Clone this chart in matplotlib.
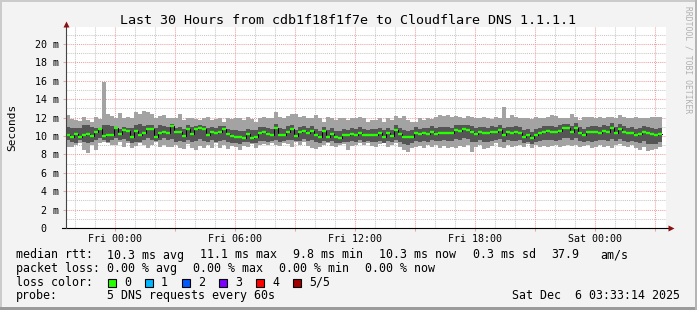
import datetime as dt
import numpy as np
import matplotlib
matplotlib.use("Agg")
import matplotlib.pyplot as plt
from matplotlib.patches import Rectangle

W, H, DPI = 697, 310, 100

title = "Last 30 Hours from cdb1f18f1f7e to Cloudflare DNS 1.1.1.1"
end_time = dt.datetime(2025, 12, 6, 3, 33, 14)
span_hours = 30
step_hours = 0.2  # 12 minute consolidation

median_ms = [
    10.07, 9.85, 10.25, 9.85, 10.11, 10.25, 10.00, 10.47, 10.72, 9.96, 10.11, 10.11, 10.83,
    10.25, 10.69, 10.58, 9.93, 10.54, 10.11, 10.33, 10.72, 10.80, 9.93, 10.36, 10.47,
    10.36, 11.12, 10.47, 10.47, 10.00, 10.80, 10.22, 10.72, 10.83, 10.76, 10.11, 10.43, 10.29,
    10.47, 10.80, 10.22, 10.04, 9.93, 9.89, 9.82, 10.22, 9.82, 9.93, 10.36, 10.43,
    10.18, 10.11, 10.91, 10.11, 10.11, 10.47, 10.72, 10.00, 10.47, 10.54, 10.29, 10.54, 10.07,
    9.85, 10.54, 9.93, 10.25, 9.93, 9.82, 10.11, 10.11, 10.22, 10.11, 10.36, 10.11,
    10.11, 10.11, 10.11, 10.29, 9.93, 10.29, 10.04, 10.65, 10.18, 9.93, 9.93, 9.93, 10.36,
    10.18, 10.36, 10.18, 10.47, 10.18, 10.29, 10.36, 10.29, 10.29, 10.65, 10.58, 10.72,
    10.65, 10.47, 10.22, 10.40, 10.29, 10.29, 10.40, 10.40, 10.65, 10.11, 10.40, 10.29, 10.40,
    10.36, 9.93, 10.11, 9.75, 10.11, 10.29, 10.47, 10.54, 10.47, 10.47, 10.54, 10.83,
    10.83, 10.47, 10.83, 10.36, 10.11, 10.40, 10.47, 10.47, 10.36, 10.54, 10.47, 10.83,
    10.36, 10.72, 10.47, 10.29, 10.36, 10.11, 10.18, 10.47, 10.29, 10.18, 10.07, 10.25,
]
ping5_ms = [
    12.28, 11.85, 11.74, 11.63, 12.10, 11.78, 11.56, 12.10, 11.85, 15.90, 12.36, 12.21, 11.92,
    12.46, 11.99, 12.10, 11.99, 12.57, 12.36, 12.72, 12.65, 12.36, 11.92, 12.21, 12.28,
    11.92, 11.92, 11.99, 12.36, 11.74, 11.99, 11.99, 11.85, 11.74, 11.99, 12.10, 11.74, 11.85,
    11.92, 11.56, 11.99, 11.85, 11.99, 11.92, 11.74, 12.10, 11.85, 11.56, 11.99, 12.10,
    11.92, 11.92, 12.57, 12.10, 11.92, 12.21, 12.36, 12.36, 12.10, 12.21, 11.92, 11.99, 12.28,
    11.92, 11.56, 12.10, 11.99, 11.74, 11.92, 11.99, 11.74, 11.92, 11.99, 12.10, 11.92,
    11.56, 11.74, 11.74, 11.92, 11.56, 11.99, 11.74, 12.21, 11.92, 12.21, 11.74, 11.56, 11.56,
    11.99, 11.74, 11.92, 11.85, 12.10, 12.28, 12.21, 12.28, 12.10, 12.21, 12.10, 11.99,
    12.21, 12.10, 11.99, 11.92, 12.10, 11.99, 11.85, 12.10, 11.92, 13.19, 11.99, 12.28, 12.10,
    11.92, 11.92, 11.99, 11.85, 12.10, 11.99, 11.92, 12.10, 12.28, 12.21, 11.99, 11.92,
    11.92, 12.36, 12.10, 11.74, 12.10, 12.10, 12.10, 11.99, 12.10, 11.92, 12.10, 12.10,
    11.99, 12.28, 12.10, 11.92, 11.92, 12.10, 11.92, 11.92, 11.92, 12.10, 12.10, 12.10,
]
ping4_ms = [
    11.02, 10.83, 10.83, 10.91, 11.20, 11.20, 11.02, 10.83, 10.91, 11.20, 11.20, 11.12, 11.02,
    10.76, 11.02, 10.83, 10.91, 11.20, 11.27, 11.12, 11.20, 11.20, 10.91, 11.20, 11.12,
    10.95, 11.30, 10.90, 11.00, 10.80, 11.15, 10.95, 11.10, 11.15, 11.10, 10.85, 11.00, 10.90,
    11.05, 11.10, 10.75, 10.60, 10.70, 10.55, 10.50, 10.80, 10.60, 10.65, 10.95, 11.00,
    10.85, 10.80, 11.30, 10.90, 10.75, 11.05, 11.20, 10.70, 11.00, 11.10, 10.85, 11.05, 10.80,
    10.55, 11.00, 10.60, 10.85, 10.55, 10.50, 10.80, 10.70, 10.85, 10.75, 11.00, 10.80,
    10.70, 10.75, 10.80, 10.90, 10.60, 10.90, 10.70, 11.20, 10.85, 10.70, 10.55, 10.60, 10.95,
    10.80, 10.90, 10.85, 11.05, 10.85, 10.95, 11.00, 10.95, 10.90, 11.20, 11.15, 11.25,
    11.20, 11.05, 10.90, 11.00, 10.95, 10.90, 11.05, 11.00, 11.20, 10.85, 11.00, 10.95, 11.05,
    10.95, 10.60, 10.75, 10.45, 10.80, 10.90, 11.05, 11.10, 11.05, 11.00, 11.15, 11.35,
    11.35, 11.05, 11.40, 10.95, 10.80, 11.00, 11.10, 11.05, 11.00, 11.15, 11.05, 11.40,
    10.95, 11.30, 11.10, 10.90, 11.00, 10.80, 10.85, 11.10, 10.95, 10.85, 10.80, 10.90,
]
ping2_ms = [
    9.57, 9.38, 9.20, 9.57, 9.38, 9.20, 9.38, 9.57, 9.75, 9.55, 9.38, 9.57, 9.75,
    9.57, 9.67, 9.46, 9.20, 9.38, 9.38, 9.57, 9.75, 9.57, 9.50, 9.57, 9.75,
    9.55, 9.70, 9.40, 9.45, 9.30, 9.60, 9.35, 9.50, 9.65, 9.45, 9.30, 9.55, 9.40,
    9.50, 9.60, 9.30, 9.20, 9.25, 9.15, 9.30, 9.40, 9.25, 9.20, 9.45, 9.50,
    9.40, 9.50, 9.60, 9.35, 9.45, 9.60, 9.55, 9.50, 9.50, 9.70, 9.45, 9.55, 9.30,
    9.20, 9.50, 9.30, 9.45, 9.25, 9.20, 9.40, 9.30, 9.45, 9.40, 9.55, 9.40,
    9.45, 9.40, 9.35, 9.50, 9.25, 9.45, 9.30, 9.60, 9.40, 9.15, 9.05, 9.20, 9.45,
    9.40, 9.50, 9.40, 9.60, 9.45, 9.50, 9.55, 9.45, 9.50, 9.70, 9.60, 9.75,
    9.70, 9.30, 9.40, 9.55, 9.35, 9.40, 9.50, 9.55, 9.70, 9.40, 9.55, 9.45, 9.50,
    9.55, 9.20, 9.35, 9.10, 9.30, 9.45, 9.60, 9.60, 9.55, 9.50, 9.60, 9.80,
    9.80, 9.55, 9.75, 9.45, 9.30, 9.50, 9.40, 9.45, 9.55, 9.60, 9.50, 9.70,
    9.45, 9.70, 9.50, 9.35, 9.50, 9.30, 9.20, 9.45, 9.15, 9.10, 9.15, 9.35,
]
ping1_ms = [
    8.84, 8.84, 9.02, 9.20, 8.48, 8.12, 9.02, 8.48, 9.20, 9.38, 9.20, 9.02, 9.02,
    9.38, 8.84, 9.20, 8.73, 8.95, 9.20, 9.02, 8.66, 9.02, 9.38, 8.84, 9.02,
    8.84, 8.84, 9.02, 8.66, 8.59, 9.09, 8.73, 8.48, 8.95, 8.73, 9.02, 8.73, 9.20,
    8.73, 9.02, 8.59, 8.95, 8.84, 8.48, 8.95, 8.84, 9.09, 8.73, 9.02, 9.09,
    9.02, 9.20, 9.02, 8.95, 9.20, 9.09, 8.84, 9.38, 9.02, 9.38, 8.95, 8.73, 8.59,
    8.84, 9.02, 9.20, 8.95, 8.84, 9.02, 9.09, 8.48, 8.95, 9.02, 9.20, 9.02,
    9.20, 8.95, 8.84, 9.09, 9.20, 8.84, 9.02, 9.20, 8.84, 8.48, 8.30, 8.66, 8.84,
    8.95, 8.66, 9.02, 8.84, 9.02, 8.66, 8.95, 8.66, 8.84, 8.73, 8.95, 8.84,
    9.02, 8.30, 8.84, 9.02, 8.59, 8.73, 8.95, 9.20, 8.84, 8.73, 9.02, 8.84, 8.95,
    9.02, 8.84, 9.09, 8.73, 9.02, 8.84, 8.95, 8.84, 8.95, 9.02, 8.84, 8.95,
    9.02, 8.95, 9.02, 8.84, 8.95, 9.02, 8.66, 8.84, 9.02, 8.84, 8.95, 8.73,
    9.02, 9.09, 8.95, 8.84, 9.02, 8.73, 8.48, 8.84, 8.37, 8.48, 8.59, 8.84,
]

xtick_labels = ["Fri 00:00", "Fri 06:00", "Fri 12:00", "Fri 18:00", "Sat 00:00"]
ytick_values = [0, 2, 4, 6, 8, 10, 12, 14, 16, 18, 20]

stats_row1 = [("median rtt:", 16), ("10.3 ms avg", 107), ("11.1 ms max", 200),
              ("9.8 ms min", 293), ("10.3 ms now", 379), ("0.3 ms sd", 473),
              ("37.9", 551), ("am/s", 600)]
stats_row2 = [("packet loss:", 16), ("0.00 % avg", 107), ("0.00 % max", 193),
              ("0.00 % min", 279), ("0.00 % now", 365)]
loss_labels = ["0", "1", "2", "3", "4", "5/5"]
loss_colors = ["#26ff00", "#00b8ff", "#0059ff", "#7e00ff", "#ff0000", "#a10000"]
probe_text = "5 DNS requests every 60s"
stamp_text = "Sat Dec  6 03:33:14 2025"
watermark = "RRDTOOL / TOBI OETIKER"

MONO = "DejaVu Sans Mono"
BG = "#f3f3f3"
RED_GRID = "#f0a0a0"
GRAY_GRID = "#c8c8c8"

fig = plt.figure(figsize=(W / DPI, H / DPI), dpi=DPI, facecolor=BG)

def fx(x):
    return x / W

def fy(y):
    return 1 - y / H

# frame (rrdtool shading)
fig.add_artist(Rectangle((0, fy(2)), 1, 2 / H, transform=fig.transFigure, fc="#cbcbcb", ec="none"))
fig.add_artist(Rectangle((0, 0), 2 / W, 1, transform=fig.transFigure, fc="#cbcbcb", ec="none"))
fig.add_artist(Rectangle((0, 0), 1, 3 / H, transform=fig.transFigure, fc="#9a9a9a", ec="none"))
fig.add_artist(Rectangle((1 - 2 / W, 0), 2 / W, 1, transform=fig.transFigure, fc="#b4b4b4", ec="none"))

left, right, top, bottom = 66, 666, 27, 228
ax = fig.add_axes([fx(left), fy(bottom), (right - left) / W, (bottom - top) / H])
ax.set_facecolor("white")
ymax = (bottom - top) / 9.2
ax.set_xlim(0, span_hours)
ax.set_ylim(0, ymax)
for s in ax.spines.values():
    s.set_visible(False)

start_time = end_time - dt.timedelta(hours=span_hours)

def hours_of(t):
    return (t - start_time).total_seconds() / 3600.0

# grid positions
first_hour = start_time.replace(minute=0, second=0) + dt.timedelta(hours=1)
hour_ticks = []
t = first_hour
while t <= end_time:
    hour_ticks.append(t)
    t += dt.timedelta(hours=1)
major_times = [t for t in hour_ticks if t.hour % 3 == 0]
label_times = [t for t in hour_ticks if t.hour % 6 == 0]

for t in hour_ticks:
    if t.hour % 3 != 0:
        ax.axvline(hours_of(t), color=GRAY_GRID, lw=0.75, ls=(0, (1, 1)), zorder=0.5)
for v in range(1, int(ymax) + 1):
    if v % 2 == 1:
        ax.axhline(v, color=GRAY_GRID, lw=0.75, ls=(0, (1, 1)), zorder=0.5)
for t in major_times:
    ax.axvline(hours_of(t), color=RED_GRID, lw=0.75, ls=(0, (1, 1)), zorder=0.6)
for v in ytick_values[1:]:
    ax.axhline(v, color=RED_GRID, lw=0.75, ls=(0, (1, 1)), zorder=0.6)

# data
n = len(median_ms)
xs = np.arange(n + 1) * step_hours
def ext(a):
    return np.append(np.asarray(a, float), a[-1])
ax.fill_between(xs, ext(ping1_ms), ext(ping5_ms), step="post", color="#a3a3a3", lw=0, zorder=2)
ax.fill_between(xs, ext(ping2_ms), ext(ping4_ms), step="post", color="#555555", lw=0, zorder=3)
ax.step(xs, ext(median_ms), where="post", color="black", lw=0.7, zorder=4)
ax.hlines(median_ms, xs[:-1], xs[1:], colors=loss_colors[0], lw=1.7, zorder=5, capstyle="butt")

# ticks
ax.set_xticks([hours_of(t) for t in major_times])
lab = []
li = 0
for t in major_times:
    if t.hour % 6 == 0:
        lab.append(xtick_labels[li]); li += 1
    else:
        lab.append("")
ax.set_xticklabels(lab, fontfamily=MONO, fontsize=7.2)
ax.tick_params(axis="x", length=2.5, width=0.75, color=RED_GRID, pad=2.0)
ax.set_yticks(ytick_values)
ax.set_yticklabels(["0  " if v == 0 else f"{v} m" for v in ytick_values], fontfamily=MONO, fontsize=7.2)
ax.tick_params(axis="y", length=2.5, width=0.75, color=RED_GRID, pad=2.5)

# axes lines and arrows
ax.plot([-4 / 600, 1 + 2 / 600], [0, 0], transform=ax.transAxes, color="black", lw=0.8, clip_on=False, zorder=6)
ax.plot([0, 0], [0, 1 + 2 / 201], transform=ax.transAxes, color="#444444", lw=0.8, clip_on=False, zorder=6)
ax.plot([1 + 5 / 600], [0], marker=">", ms=4.5, color="#8b1010", mec="none", transform=ax.transAxes, clip_on=False, zorder=7)
ax.plot([0], [1 + 3 / 201], marker="^", ms=4.5, color="#8b1010", mec="none", transform=ax.transAxes, clip_on=False, zorder=7)

# texts
fig.text(fx(347.5), fy(24), title, family=MONO, fontsize=9.6, ha="center", va="baseline", color="black")
fig.text(fx(12.5), fy(127), "Seconds", family=MONO, fontsize=8, rotation=90, ha="center", va="center")
fig.text(fx(688), fy(60), watermark, family=MONO, fontsize=5.8, rotation=-90, ha="center", va="center", color="#b0b0b0")

FS = 8.4
for txt, x in stats_row1:
    fig.text(fx(x), fy(258.5), txt, family=MONO, fontsize=FS, va="baseline")
for txt, x in stats_row2:
    fig.text(fx(x), fy(272), txt, family=MONO, fontsize=FS, va="baseline")
fig.text(fx(16), fy(285.5), "loss color:", family=MONO, fontsize=FS, va="baseline")
for i, (lbl, col) in enumerate(zip(loss_labels, loss_colors)):
    bx = 108 + 37 * i
    fig.add_artist(Rectangle((fx(bx), fy(287)), 8 / W, 8 / H, transform=fig.transFigure,
                             fc=col, ec="black", lw=0.8))
    fig.text(fx(bx + 16), fy(285.5), lbl, family=MONO, fontsize=FS, va="baseline")
fig.text(fx(16), fy(299), "probe:", family=MONO, fontsize=FS, va="baseline")
fig.text(fx(107), fy(299), probe_text, family=MONO, fontsize=FS, va="baseline")
fig.text(fx(680), fy(299), stamp_text, family=MONO, fontsize=FS, va="baseline", ha="right")

fig.savefig("out.png", dpi=DPI, facecolor=BG)
